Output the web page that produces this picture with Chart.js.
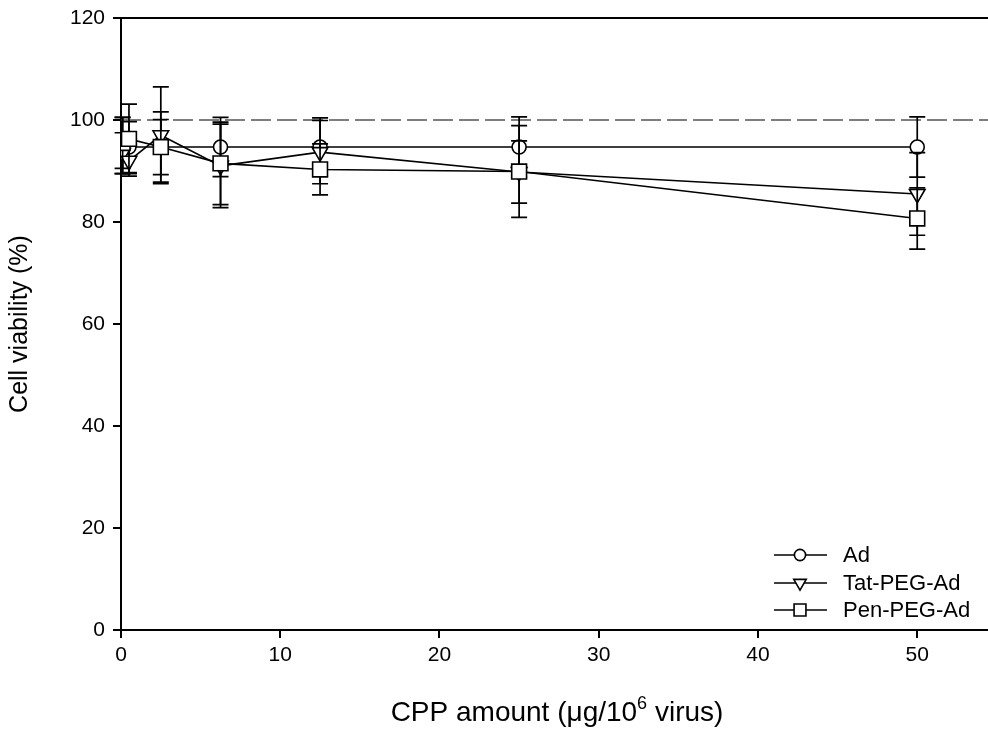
<!DOCTYPE html>
<html>
<head>
<meta charset="utf-8">
<script src="https://cdn.jsdelivr.net/npm/chart.js@4.4.1/dist/chart.umd.min.js"></script>
<style>
  html, body { margin: 0; padding: 0; background: #fff; overflow: hidden; }
  #wrap { width: 988px; height: 733px; overflow: hidden; }
</style>
</head>
<body>
<div id="wrap"><canvas id="myChart" width="1001" height="733"></canvas></div>
<script>
// doses (CPP amount, ug / 10^6 virus)
const doses = [0.1, 0.5, 2.5, 6.25, 12.5, 25, 50];

const adMean  = [95.0, 94.7, 94.7, 94.7, 94.7, 94.7, 94.7];
const adSd    = [5.5, 5.0, 5.4, 5.8, 5.7, 5.9, 5.9];
const tatMean = [93.5, 92.0, 97.0, 91.0, 93.7, 89.8, 85.5];
const tatSd   = [4.0, 3.0, 9.5, 8.2, 6.2, 6.1, 8.1];
const penMean = [95.5, 96.3, 94.7, 91.5, 90.3, 89.9, 80.7];
const penSd   = [5.0, 6.8, 6.9, 8.1, 5.0, 9.0, 6.0];

const seriesNames = ['Ad', 'Tat-PEG-Ad', 'Pen-PEG-Ad'];
const yTicks = [0, 20, 40, 60, 80, 100, 120];
const xTicks = [0, 10, 20, 30, 40, 50];
const refLine = 100;

function toPoints(xs, ys, sds) {
  return xs.map((x, i) => ({ x: x, y: ys[i], sd: sds[i] }));
}

const FONT = 'Liberation Sans, Arial, sans-serif';

// error bars drawn just before each dataset
const errorBars = {
  id: 'errorBars',
  beforeDatasetDraw(chart, args) {
    const ctx = chart.ctx;
    const xs = chart.scales.x, ys = chart.scales.y;
    const ds = chart.data.datasets[args.index];
    ctx.save();
    ctx.strokeStyle = '#000';
    ctx.lineWidth = 1.7;
    ds.data.forEach(p => {
      const px = xs.getPixelForValue(p.x);
      const top = ys.getPixelForValue(p.y + p.sd);
      const bot = ys.getPixelForValue(p.y - p.sd);
      ctx.beginPath();
      ctx.moveTo(px, top); ctx.lineTo(px, bot);
      ctx.moveTo(px - 8, top); ctx.lineTo(px + 8, top);
      ctx.moveTo(px - 8, bot); ctx.lineTo(px + 8, bot);
      ctx.stroke();
    });
    ctx.restore();
  }
};

const decorations = {
  id: 'decorations',
  beforeDatasetsDraw(chart) {
    const ctx = chart.ctx;
    const a = chart.chartArea;
    const y = chart.scales.y.getPixelForValue(refLine);
    ctx.save();
    ctx.strokeStyle = '#555';
    ctx.lineWidth = 1.5;
    ctx.setLineDash([20, 6]);
    ctx.beginPath();
    ctx.moveTo(a.left, y); ctx.lineTo(a.right, y);
    ctx.stroke();
    ctx.restore();
  },
  afterDraw(chart) {
    const ctx = chart.ctx;
    const a = chart.chartArea;
    ctx.save();
    // top frame
    ctx.strokeStyle = '#000';
    ctx.lineWidth = 2;
    ctx.beginPath();
    ctx.moveTo(a.left, a.top); ctx.lineTo(a.right, a.top);
    ctx.stroke();

    // legend
    const rows = [555, 583, 610];
    chart.data.datasets.forEach((ds, i) => {
      const y = rows[i];
      ctx.strokeStyle = '#000';
      ctx.lineWidth = 1.6;
      ctx.beginPath();
      ctx.moveTo(774, y); ctx.lineTo(827, y);
      ctx.stroke();
      ctx.fillStyle = '#fff';
      Chart.helpers.drawPoint(ctx, {
        pointStyle: ds.pointStyle,
        radius: ds.pointRadius * 0.8,
        rotation: ds.pointRotation || 0,
        borderWidth: 1.6
      }, 800, y);
      ctx.fillStyle = '#000';
      ctx.font = '22px ' + FONT;
      ctx.textBaseline = 'middle';
      ctx.textAlign = 'left';
      ctx.fillText(seriesNames[i], 843, y + 1);
    });

    // x axis title with superscript
    ctx.fillStyle = '#000';
    ctx.textBaseline = 'alphabetic';
    ctx.textAlign = 'left';
    const big = '28px ' + FONT, small = '18px ' + FONT;
    const p1 = 'CPP amount (\u03bcg/10', p2 = '6', p3 = ' virus)';
    ctx.font = big; const w1 = ctx.measureText(p1).width, w3 = ctx.measureText(p3).width;
    ctx.font = small; const w2 = ctx.measureText(p2).width;
    let x0 = 557 - (w1 + w2 + w3) / 2;
    const base = 721;
    ctx.font = big; ctx.fillText(p1, x0, base);
    ctx.font = small; ctx.fillText(p2, x0 + w1, base - 12);
    ctx.font = big; ctx.fillText(p3, x0 + w1 + w2, base);
    ctx.restore();
  }
};

const ctx = document.getElementById('myChart').getContext('2d');
const config = {
  type: 'line',
  data: {
    datasets: [
      {
        label: seriesNames[0],
        data: toPoints(doses, adMean, adSd),
        borderColor: '#000',
        backgroundColor: '#fff',
        pointBackgroundColor: '#fff',
        pointBorderColor: '#000',
        pointStyle: 'circle',
        pointRadius: 7,
        pointBorderWidth: 1.6,
        borderWidth: 1.6,
        order: 3
      },
      {
        label: seriesNames[1],
        data: toPoints(doses, tatMean, tatSd),
        borderColor: '#000',
        backgroundColor: '#fff',
        pointBackgroundColor: '#fff',
        pointBorderColor: '#000',
        pointStyle: 'triangle',
        pointRotation: 180,
        pointRadius: 9,
        pointBorderWidth: 1.6,
        borderWidth: 1.6,
        order: 2
      },
      {
        label: seriesNames[2],
        data: toPoints(doses, penMean, penSd),
        borderColor: '#000',
        backgroundColor: '#fff',
        pointBackgroundColor: '#fff',
        pointBorderColor: '#000',
        pointStyle: 'rect',
        pointRadius: 10.5,
        pointBorderWidth: 1.6,
        borderWidth: 1.6,
        order: 1
      }
    ]
  },
  options: {
    responsive: false,
    animation: false,
    layout: { padding: { top: 18, right: 0, left: 0, bottom: 0 } },
    plugins: { legend: { display: false }, tooltip: { enabled: false } },
    scales: {
      x: {
        type: 'linear',
        min: 0,
        max: 54.5,
        afterFit: s => { s.height = 103; s.paddingLeft = 0; s.paddingRight = 0; },
        afterBuildTicks: s => { s.ticks = xTicks.map(v => ({ value: v })); },
        ticks: { color: '#000', font: { family: FONT, size: 21 }, padding: 5, maxRotation: 0 },
        grid: { drawOnChartArea: false, drawTicks: true, tickLength: 8, color: '#000', lineWidth: 2 },
        border: { color: '#000', width: 2 }
      },
      y: {
        type: 'linear',
        min: 0,
        max: 120,
        afterFit: s => { s.width = 121; s.paddingTop = 0; s.paddingBottom = 0; },
        afterBuildTicks: s => { s.ticks = yTicks.map(v => ({ value: v })); },
        ticks: { color: '#000', font: { family: FONT, size: 21 }, padding: 8 },
        grid: { drawOnChartArea: false, drawTicks: true, tickLength: 8, color: '#000', lineWidth: 2 },
        border: { color: '#000', width: 2 },
        title: {
          display: true,
          text: 'Cell viability (%)',
          color: '#000',
          font: { family: FONT, size: 25 },
          padding: { top: 5, bottom: 0 }
        }
      }
    }
  },
  plugins: [errorBars, decorations]
};

var myChart = new Chart(ctx, config);
</script>
</body>
</html>
